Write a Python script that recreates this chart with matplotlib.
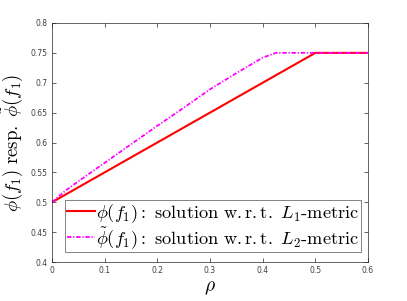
import matplotlib
matplotlib.use("Agg")
import matplotlib.pyplot as plt
import numpy as np

plt.rcParams['mathtext.fontset'] = 'cm'

rho_l1 = [0.0, 0.5, 0.6]
phi_l1 = [0.5, 0.75, 0.75]

rho_l2 = [0.0, 0.025, 0.05, 0.1, 0.15, 0.2, 0.25, 0.3, 0.35, 0.4, 0.425, 0.5, 0.6]
phi_l2 = [0.5, 0.519, 0.535, 0.566, 0.597, 0.628, 0.658, 0.689, 0.716, 0.742, 0.75, 0.75, 0.75]

xticks = [0, 0.1, 0.2, 0.3, 0.4, 0.5, 0.6]
yticks = [0.4, 0.45, 0.5, 0.55, 0.6, 0.65, 0.7, 0.75, 0.8]
xticklabels = ['0', '0.1', '0.2', '0.3', '0.4', '0.5', '0.6']
yticklabels = ['0.4', '0.45', '0.5', '0.55', '0.6', '0.65', '0.7', '0.75', '0.8']

fig = plt.figure(figsize=(4.07, 3.01), dpi=100)
ax = fig.add_axes([52/407, 1-262/301, (368-52)/407, (262-23)/301])

ax.plot(rho_l1, phi_l1, color='#ff0000', lw=1.5,
        label=r'$\phi(f_1)\mathrm{:\ solution\ w.r.t.}\ L_1\mathrm{\text{-}metric}$')
ax.plot(rho_l2, phi_l2, color='#ff00ff', lw=1.3, ls=(0, (2.4, 1.0, 0.7, 1.0)),
        label=r'$\tilde{\phi}(f_1)\mathrm{:\ solution\ w.r.t.}\ L_2\mathrm{\text{-}metric}$')

ax.set_xlim(0, 0.6)
ax.set_ylim(0.4, 0.8)
ax.set_xticks(xticks)
ax.set_yticks(yticks)
ax.set_xticklabels(xticklabels)
ax.set_yticklabels(yticklabels)
ax.tick_params(direction='in', top=True, right=True, labelsize=5.5, length=3, width=0.5,
               colors='#262626', labelcolor='#404040', pad=3)
for s in ax.spines.values():
    s.set_color('#262626')
    s.set_linewidth(0.5)

ax.set_xlabel(r'$\rho$', fontsize=14, labelpad=2)
ax.set_ylabel(r'$\phi(f_1)\ \mathrm{resp.}\ \tilde{\phi}(f_1)$', fontsize=13.5, labelpad=4)

leg = ax.legend(loc='lower left', bbox_to_anchor=(0.042, 0.04),
                frameon=True, fancybox=False, handlelength=1.5, handletextpad=0.1,
                borderpad=0.1, labelspacing=0.0, borderaxespad=0.0,
                prop={'size': 13.2})
leg.get_frame().set_edgecolor('#262626')
leg.get_frame().set_linewidth(0.5)

fig.savefig('out.png', dpi=100)
